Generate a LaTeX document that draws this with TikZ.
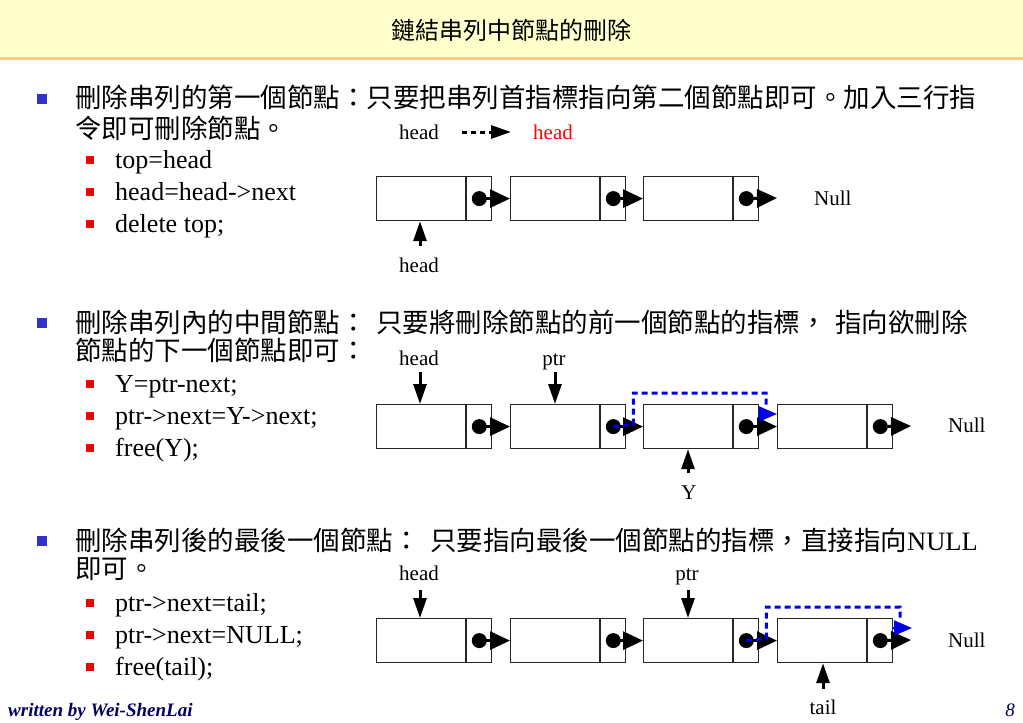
\documentclass[tikz,border=0pt]{standalone}
\usepackage{fontspec}
\setmainfont{Liberation Serif}
\newfontfamily\cjk{Noto Sans CJK TC}
\usetikzlibrary{arrows.meta}
\definecolor{titlebg}{RGB}{255,255,204}
\definecolor{titleline}{RGB}{255,204,102}
\definecolor{bulblue}{RGB}{51,51,204}
\definecolor{bulred}{RGB}{240,0,0}
\definecolor{footblue}{RGB}{0,0,102}
\definecolor{dashblue}{RGB}{0,0,230}
\newcommand{\lnode}[3]{%
  \node[databox] (#1) at (#2,#3) {};
  \node[ptrbox] (#1p) at (#1.east) {};
  \node[dotnode] (#1d) at (#1p.center) {};
}
\begin{document}
\begin{tikzpicture}[x=1pt,y=-1pt,
  databox/.style={draw=black!85, line width=1.2pt, minimum width=89pt, minimum height=44pt, inner sep=0, anchor=north west},
  ptrbox/.style={draw=black!85, line width=1.2pt, minimum width=25pt, minimum height=44pt, inner sep=0, anchor=west},
  dotnode/.style={circle, fill=black, minimum size=15pt, inner sep=0},
  link/.style={line width=3pt, -{Triangle[length=20pt,width=18pt]}},
  vptr/.style={line width=3pt, -{Triangle[length=20pt,width=13pt]}},
  bluelink/.style={dashblue, line width=3pt, dash pattern=on 6pt off 4pt},
  bluetip/.style={dashblue, line width=2pt, -{Triangle[length=18pt,width=15pt]}},
  maintext/.style={font=\cjk\fontsize{26.5}{32}\selectfont, anchor=base west, inner sep=0},
  subtext/.style={font=\fontsize{26}{32}\selectfont, anchor=base west, inner sep=0},
  lab/.style={font=\fontsize{21}{24}\selectfont, anchor=base, inner sep=0},
  bigbul/.style={fill=bulblue, minimum size=10pt, inner sep=0},
  smallbul/.style={fill=bulred, minimum size=8pt, inner sep=0},
]
\useasboundingbox (0,0) rectangle (1023,723);
% title bar
\fill[titlebg] (0,0) rectangle (1023,57);
\fill[titleline] (0,57) rectangle (1023,60);
\node[font=\cjk\fontsize{24}{28}\selectfont, inner sep=0] (title) at (511,30) {鏈結串列中節點的刪除};

% ---------- section 1 ----------
\node[bigbul] (b1) at (42,99) {};
\node[maintext] (t1a) at (75,107) {刪除串列的第一個節點：只要把串列首指標指向第二個節點即可。加入三行指};
\node[maintext] (t1b) at (75,138) {令即可刪除節點。};
\node[smallbul] (s11) at (90,160) {};
\node[smallbul] (s12) at (90,192) {};
\node[smallbul] (s13) at (90,224) {};
\node[subtext] (c11) at (115,168) {top=head};
\node[subtext] (c12) at (115,200) {head=head->next};
\node[subtext] (c13) at (115,232) {delete top;};

\node[lab] (h1old) at (419,139) {head};
\node[lab, text=red] (h1new) at (553,139) {head};
\coordinate (h1a) at (462,132);
\coordinate (h1b) at (511,132);
\draw[line width=3pt, dash pattern=on 5pt off 4pt, -{Triangle[length=20pt,width=13pt]}] (h1a) -- (h1b);

\lnode{a1}{376}{176}
\lnode{a2}{510}{176}
\lnode{a3}{643}{176}
\coordinate (a4) at (777,198);
\draw[link] (a1d.center) -- (a2.west);
\draw[link] (a2d.center) -- (a3.west);
\draw[link] (a3d.center) -- (a4);
\node[lab, anchor=base west] (null1) at (814,205) {Null};
\node[lab] (h1low) at (419,272) {head};
\draw[vptr] (420,246) coordinate (h1start) -- (h1start |- a1.south);

% ---------- section 2 ----------
\node[bigbul] (b2) at (42,323) {};
\node[maintext] (t2a) at (75,332) {刪除串列內的中間節點：};
\node[maintext] (t2b) at (376,332) {只要將刪除節點的前一個節點的指標，};
\node[maintext] (t2c) at (835,332) {指向欲刪除};
\node[maintext] (t2d) at (75,360) {節點的下一個節點即可：};
\node[smallbul] (s21) at (90,384) {};
\node[smallbul] (s22) at (90,416) {};
\node[smallbul] (s23) at (90,448) {};
\node[subtext] (c21) at (115,392) {Y=ptr-next;};
\node[subtext] (c22) at (115,424) {ptr->next=Y->next;};
\node[subtext] (c23) at (115,456) {free(Y);};

\lnode{m1}{376}{404}
\lnode{m2}{510}{404}
\lnode{m3}{643}{404}
\lnode{m4}{777}{404}
\coordinate (m5) at (911,426);
\draw[link] (m1d.center) -- (m2.west);
\draw[link] (m2d.center) -- (m3.west);
\draw[link] (m3d.center) -- (m4.west);
\draw[link] (m4d.center) -- (m5);
\node[lab, anchor=base west] (null2) at (948,432) {Null};
\node[lab] (h2) at (419,365) {head};
\node[lab] (p2) at (554,365) {ptr};
\node[lab] (y2) at (689,499) {Y};
\draw[vptr] (420,372) coordinate (h2start) -- (h2start |- m1.north);
\draw[vptr] (555,372) coordinate (p2start) -- (p2start |- m2.north);
\draw[vptr] (688,473) coordinate (y2start) -- (y2start |- m3.south);
\draw[bluelink] (m2d.center) -- ++(20,-2) coordinate (bl2a) -- (bl2a |- 0,393) -| (766,406) coordinate (bl2b);
\coordinate (bl2c) at (758,414);
\draw[bluetip] (bl2c) -- (m4.west |- bl2c);

% ---------- section 3 ----------
\node[bigbul] (b3) at (42,541) {};
\node[maintext] (t3a) at (75,550) {刪除串列後的最後一個節點：};
\node[maintext] (t3b) at (430,550) {只要指向最後一個節點的指標，直接指向{\rmfamily NULL}};
\node[maintext] (t3c) at (75,578) {即可。};
\node[smallbul] (s31) at (90,603) {};
\node[smallbul] (s32) at (90,635) {};
\node[smallbul] (s33) at (90,667) {};
\node[subtext] (c31) at (115,611) {ptr->next=tail;};
\node[subtext] (c32) at (115,643) {ptr->next=NULL;};
\node[subtext] (c33) at (115,675) {free(tail);};

\lnode{e1}{376}{618}
\lnode{e2}{510}{618}
\lnode{e3}{643}{618}
\lnode{e4}{777}{618}
\coordinate (e5) at (911,640);
\draw[link] (e1d.center) -- (e2.west);
\draw[link] (e2d.center) -- (e3.west);
\draw[link] (e3d.center) -- (e4.west);
\draw[link] (e4d.center) -- (e5);
\node[lab, anchor=base west] (null3) at (948,647) {Null};
\node[lab] (h3) at (419,580) {head};
\node[lab] (p3) at (687,580) {ptr};
\node[lab] (tl3) at (823,714) {tail};
\draw[vptr] (420,590) coordinate (h3start) -- (h3start |- e1.north);
\draw[vptr] (688,590) coordinate (p3start) -- (p3start |- e3.north);
\draw[vptr] (823,689) coordinate (t3start) -- (t3start |- e4.south);
\draw[bluelink] (e3d.center) -- ++(20,-2) coordinate (bl3a) -- (bl3a |- 0,607) -| (900,620) coordinate (bl3b);
\coordinate (bl3c) at (892,628);
\draw[bluetip] (bl3c) -- ([xshift=20pt]bl3c);

% footer
\node[font=\fontsize{19}{22}\selectfont\bfseries\itshape, text=footblue, anchor=base west, inner sep=0] (foot) at (8,716) {written by Wei-ShenLai};
\node[font=\fontsize{19}{22}\selectfont\itshape, text=footblue, anchor=base east, inner sep=0] (page) at (1015,716) {8};
\end{tikzpicture}
\end{document}
